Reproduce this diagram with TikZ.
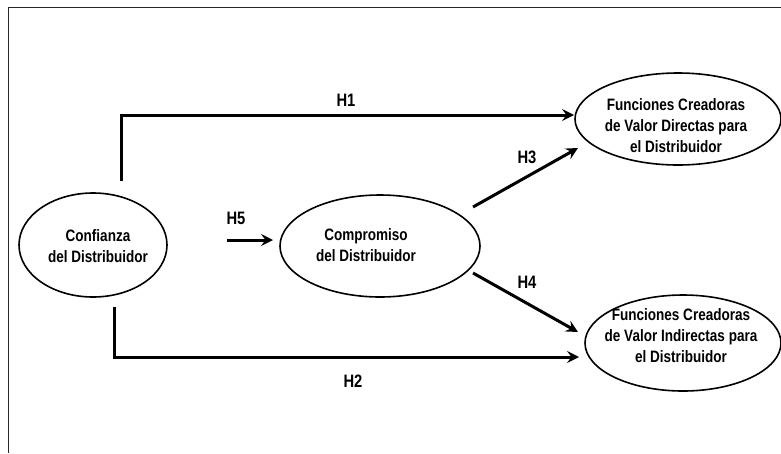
\documentclass[tikz,border=0pt]{standalone}
\usepackage{fontspec}
\setmainfont{Liberation Sans}[FakeStretch=0.82]
\usetikzlibrary{shapes.geometric,arrows.meta}
\tikzset{
  ell/.style={draw=black, line width=1.6pt, ellipse, inner sep=0pt},
  txt/.style={font=\fontsize{16.5}{21}\selectfont\bfseries, align=center, inner sep=0pt},
  hlab/.style={font=\fontsize{18}{20}\selectfont\bfseries, inner sep=0pt},
  arr/.style={line width=3pt, -{Stealth[length=12pt,width=12pt,inset=4.5pt]}},
  frame/.style={draw=black!85, line width=1.1pt}
}
\begin{document}
\begin{tikzpicture}[x=1pt,y=-1pt]
\useasboundingbox (0,0) rectangle (781,453);
% frame
\draw[frame] (8.5,453) -- (8.5,7.3) -- (781,7.3);
% ellipses
\node[ell, minimum width=148pt, minimum height=104pt] (conf) at (93,245) {};
\node[ell, minimum width=200pt, minimum height=102pt] (comp) at (380,246) {};
\node[ell, minimum width=206pt, minimum height=92pt] (dir) at (678,119) {};
\node[ell, minimum width=196pt, minimum height=96pt] (ind) at (683,343) {};
% texts
\node[txt] (tconf) at (98,246) {Confianza\\del Distribuidor};
\node[txt] (tcomp) at (366,245) {Compromiso\\del Distribuidor};
\node[txt] (tdir) at (676,126) {Funciones Creadoras\\de Valor Directas para\\el Distribuidor};
\node[txt] (tind) at (681,336) {Funciones Creadoras\\de Valor Indirectas para\\el Distribuidor};
% connector endpoints
\coordinate (h1s) at (121,181);
\coordinate (h1e) at (574,115);
\coordinate (h2s) at (114,307);
\coordinate (h2e) at (579,357);
\coordinate (h5s) at (227,240);
\coordinate (h5e) at (273,240);
\coordinate (h3s) at (473,207);
\coordinate (h3e) at (578,148);
\coordinate (h4s) at (473,273);
\coordinate (h4e) at (578,332);
% connectors
\draw[arr] (h1s) |- (h1e);
\draw[arr] (h2s) |- (h2e);
\draw[arr] (h5s) -- (h5e);
\draw[arr] (h3s) -- (h3e);
\draw[arr] (h4s) -- (h4e);
% labels
\node[hlab] (l1) at (346,100) {H1};
\node[hlab] (l2) at (353,381) {H2};
\node[hlab] (l3) at (527,157) {H3};
\node[hlab] (l4) at (527,282) {H4};
\node[hlab] (l5) at (236,218) {H5};
\end{tikzpicture}
\end{document}
